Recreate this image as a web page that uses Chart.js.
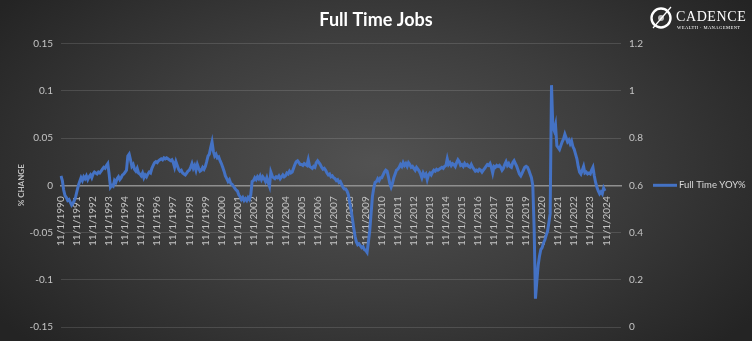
<!DOCTYPE html>
<html>
<head>
<meta charset="utf-8">
<script src="https://cdn.jsdelivr.net/npm/chart.js@4.4.1/dist/chart.umd.min.js"></script>
<style>
  html, body { margin: 0; padding: 0; }
  body { width: 752px; height: 341px; overflow: hidden; }
  #wrap {
    position: relative; width: 752px; height: 341px;
    background: radial-gradient(ellipse 62% 78% at 50% 48%, #525252 0%, #3d3d3d 50%, #242424 100%);
  }
  #logo { position: absolute; left: 649px; top: 5px; width: 100px; height: 28px; color: #fff; }
  #logo svg { position: absolute; left: 0; top: 0; }
  #logo .name { position: absolute; left: 27px; top: 4px; font: 14px "Liberation Serif", serif; letter-spacing: 0.6px; }
  #logo .sub { position: absolute; left: 28px; top: 20px; font: 4.6px "Liberation Serif", serif; letter-spacing: 0.4px; white-space: nowrap; }
</style>
</head>
<body>
<div id="wrap">
  <canvas id="chart" width="752" height="341"></canvas>
  <div id="logo">
    <svg width="26" height="28" viewBox="0 0 26 28">
      <circle cx="12" cy="13" r="9.5" fill="none" stroke="#fff" stroke-width="2.4"/>
      <circle cx="12" cy="13" r="3" fill="#bbb"/>
      <line x1="4" y1="23" x2="22" y2="2" stroke="#fff" stroke-width="1.2"/>
    </svg>
    <div class="name">CADENCE</div>
    <div class="sub">WEALTH · MANAGEMENT</div>
  </div>
</div>
<script>
const startYear = 1990;      // first category is 11/1/1990
const monthsShown = 420;     // axis runs on past the last reading

// Full Time YOY%, monthly from Nov 1990, one row per Nov..Oct year
const fullTimeYoy = [
  0.010, 0.005, -0.005, -0.011, -0.013, -0.016, -0.015, -0.018, -0.021, -0.019, -0.016, -0.012,
  -0.006, 0.000, 0.004, 0.008, 0.005, 0.009, 0.007, 0.010, 0.006, 0.009, 0.011, 0.008,
  0.012, 0.014, 0.013, 0.012, 0.014, 0.013, 0.015, 0.017, 0.019, 0.018, 0.021, 0.023,
  0.012, -0.002, 0.000, -0.001, 0.005, 0.003, 0.007, 0.009, 0.006, 0.008, 0.011, 0.012,
  0.014, 0.016, 0.031, 0.033, 0.027, 0.020, 0.022, 0.017, 0.015, 0.018, 0.013, 0.012,
  0.010, 0.013, 0.008, 0.011, 0.009, 0.012, 0.014, 0.013, 0.018, 0.021, 0.024, 0.025,
  0.024, 0.026, 0.027, 0.028, 0.027, 0.029, 0.028, 0.029, 0.028, 0.027, 0.026, 0.027,
  0.024, 0.019, 0.025, 0.021, 0.017, 0.015, 0.016, 0.013, 0.012, 0.011, 0.013, 0.015,
  0.016, 0.019, 0.023, 0.018, 0.021, 0.016, 0.022, 0.018, 0.015, 0.016, 0.019, 0.017,
  0.020, 0.025, 0.031, 0.033, 0.040, 0.046, 0.036, 0.031, 0.033, 0.029, 0.030, 0.026,
  0.023, 0.019, 0.015, 0.010, 0.007, 0.004, 0.006, 0.002, 0.001, -0.001, -0.003, -0.005,
  -0.006, -0.010, -0.012, -0.015, -0.013, -0.016, -0.014, -0.016, -0.013, -0.015, -0.010, 0.004,
  0.005, 0.008, 0.006, 0.009, 0.007, 0.010, 0.006, 0.009, 0.007, 0.004, 0.008, 0.003,
  -0.001, 0.014, 0.010, 0.008, 0.007, 0.009, 0.008, 0.010, 0.007, 0.009, 0.011, 0.009,
  0.010, 0.013, 0.012, 0.015, 0.013, 0.014, 0.018, 0.022, 0.025, 0.026, 0.024, 0.022,
  0.022, 0.021, 0.023, 0.022, 0.021, 0.027, 0.020, 0.019, 0.018, 0.020, 0.019, 0.024,
  0.026, 0.024, 0.022, 0.019, 0.017, 0.018, 0.016, 0.013, 0.011, 0.012, 0.009, 0.010,
  0.008, 0.007, 0.005, 0.006, 0.003, 0.004, 0.001, -0.002, -0.004, -0.004, -0.006, -0.010,
  -0.018, -0.026, -0.035, -0.045, -0.054, -0.060, -0.063, -0.062, -0.064, -0.066, -0.065, -0.068,
  -0.069, -0.071, -0.060, -0.048, -0.030, -0.012, -0.003, 0.003, 0.004, 0.007, 0.005, 0.008,
  0.008, 0.011, 0.014, 0.016, 0.015, 0.009, 0.002, -0.002, 0.002, 0.008, 0.012, 0.016,
  0.017, 0.019, 0.022, 0.020, 0.024, 0.021, 0.023, 0.020, 0.024, 0.022, 0.019, 0.020,
  0.018, 0.016, 0.019, 0.017, 0.015, 0.012, 0.008, 0.013, 0.010, 0.012, 0.006, 0.011,
  0.013, 0.011, 0.014, 0.016, 0.015, 0.017, 0.016, 0.017, 0.018, 0.019, 0.018, 0.020,
  0.021, 0.028, 0.022, 0.024, 0.021, 0.023, 0.022, 0.020, 0.024, 0.027, 0.025, 0.021,
  0.022, 0.020, 0.023, 0.021, 0.022, 0.020, 0.019, 0.022, 0.019, 0.017, 0.015, 0.016,
  0.015, 0.017, 0.016, 0.014, 0.016, 0.018, 0.020, 0.022, 0.021, 0.023, 0.019, 0.013,
  0.020, 0.019, 0.021, 0.020, 0.021, 0.019, 0.016, 0.018, 0.022, 0.025, 0.021, 0.023,
  0.020, 0.019, 0.024, 0.026, 0.023, 0.020, 0.016, 0.012, 0.010, 0.013, 0.016, 0.019,
  0.020, 0.019, 0.016, 0.012, 0.008, 0.000, -0.045, -0.120, -0.102, -0.085, -0.075, -0.068,
  -0.066, -0.061, -0.058, -0.053, -0.049, -0.040, -0.030, 0.106, 0.062, 0.058, 0.064, 0.042,
  0.040, 0.038, 0.042, 0.046, 0.049, 0.054, 0.050, 0.046, 0.048, 0.044, 0.047, 0.041,
  0.038, 0.033, 0.028, 0.020, 0.014, 0.012, 0.016, 0.020, 0.013, 0.014, 0.012, 0.013,
  0.012, 0.016, 0.019, 0.010, 0.003, -0.002, -0.006, -0.009, -0.007, -0.009, -0.003, -0.006
];

const categories = [];
for (let i = 0; i < monthsShown; i++) {
  const month = (10 + i) % 12 + 1;
  const year = startYear + Math.floor((10 + i) / 12);
  categories.push(month + '/1/' + year);
}

const leftMin = -0.15, leftMax = 0.15, leftStep = 0.05;
const rightMin = 0, rightMax = 1.2, rightStep = 0.2;

const tickColor = '#c4c4c4';
const gridColor = 'rgba(255,255,255,0.13)';
const fontFamily = 'Lato, "Open Sans", sans-serif';

// legend drawn to the right of the right-hand axis, like the Excel one
const sideLegend = {
  id: 'sideLegend',
  afterDraw(chart) {
    const { ctx, chartArea } = chart;
    const ds = chart.data.datasets[0];
    const y = (chartArea.top + chartArea.bottom) / 2;
    const x0 = chartArea.right + 32;
    ctx.save();
    ctx.strokeStyle = ds.borderColor;
    ctx.lineWidth = ds.borderWidth;
    ctx.beginPath();
    ctx.moveTo(x0, y);
    ctx.lineTo(x0 + 24, y);
    ctx.stroke();
    ctx.fillStyle = '#d9d9d9';
    ctx.font = '9.5px ' + fontFamily;
    ctx.textBaseline = 'middle';
    ctx.fillText(ds.label, x0 + 26, y);
    ctx.restore();
  }
};

new Chart(document.getElementById('chart'), {
  type: 'line',
  data: {
    labels: categories,
    datasets: [{
      label: 'Full Time YOY%',
      data: fullTimeYoy,
      borderColor: '#4472C4',
      backgroundColor: '#4472C4',
      borderWidth: 3,
      pointRadius: 0,
      tension: 0,
      fill: false,
      yAxisID: 'y'
    }]
  },
  plugins: [sideLegend],
  options: {
    responsive: false,
    animation: false,
    layout: { padding: { top: 0, right: 0, bottom: 14, left: 0 } },
    plugins: {
      title: {
        display: true,
        text: 'Full Time Jobs',
        color: '#ffffff',
        font: { family: fontFamily, size: 18, weight: 'bold' },
        padding: { top: 9, bottom: 13 }
      },
      legend: { display: false },
      tooltip: { enabled: false }
    },
    scales: {
      x: {
        type: 'category',
        position: { y: 0 },
        grid: { display: false },
        border: { display: true, color: '#8f8f8f', width: 1.5 },
        ticks: {
          autoSkip: false,
          minRotation: 90,
          maxRotation: 90,
          padding: 3,
          color: tickColor,
          font: { family: fontFamily, size: 10 },
          callback: (v, i) => categories[i].startsWith('11/') ? categories[i] : null
        }
      },
      y: {
        position: 'left',
        min: leftMin, max: leftMax,
        grid: { color: gridColor, drawTicks: false },
        border: { display: false },
        ticks: {
          stepSize: leftStep,
          padding: 8,
          color: tickColor,
          font: { family: fontFamily, size: 10 },
          callback: v => String(+v.toFixed(2))
        },
        title: {
          display: true,
          text: '% CHANGE',
          color: tickColor,
          font: { family: fontFamily, size: 8, weight: 'bold' },
          padding: { top: 17, bottom: 0 }
        },
        afterFit: s => { s.width = 61; }
      },
      y1: {
        position: 'right',
        min: rightMin, max: rightMax,
        grid: { display: false, drawTicks: false },
        border: { display: false },
        ticks: {
          stepSize: rightStep,
          padding: 8,
          color: tickColor,
          font: { family: fontFamily, size: 10 },
          callback: v => String(+v.toFixed(1))
        },
        // wide right axis leaves room for the side legend and keeps the title centred
        afterFit: s => { s.width = 131; }
      }
    }
  }
});
</script>
</body>
</html>
